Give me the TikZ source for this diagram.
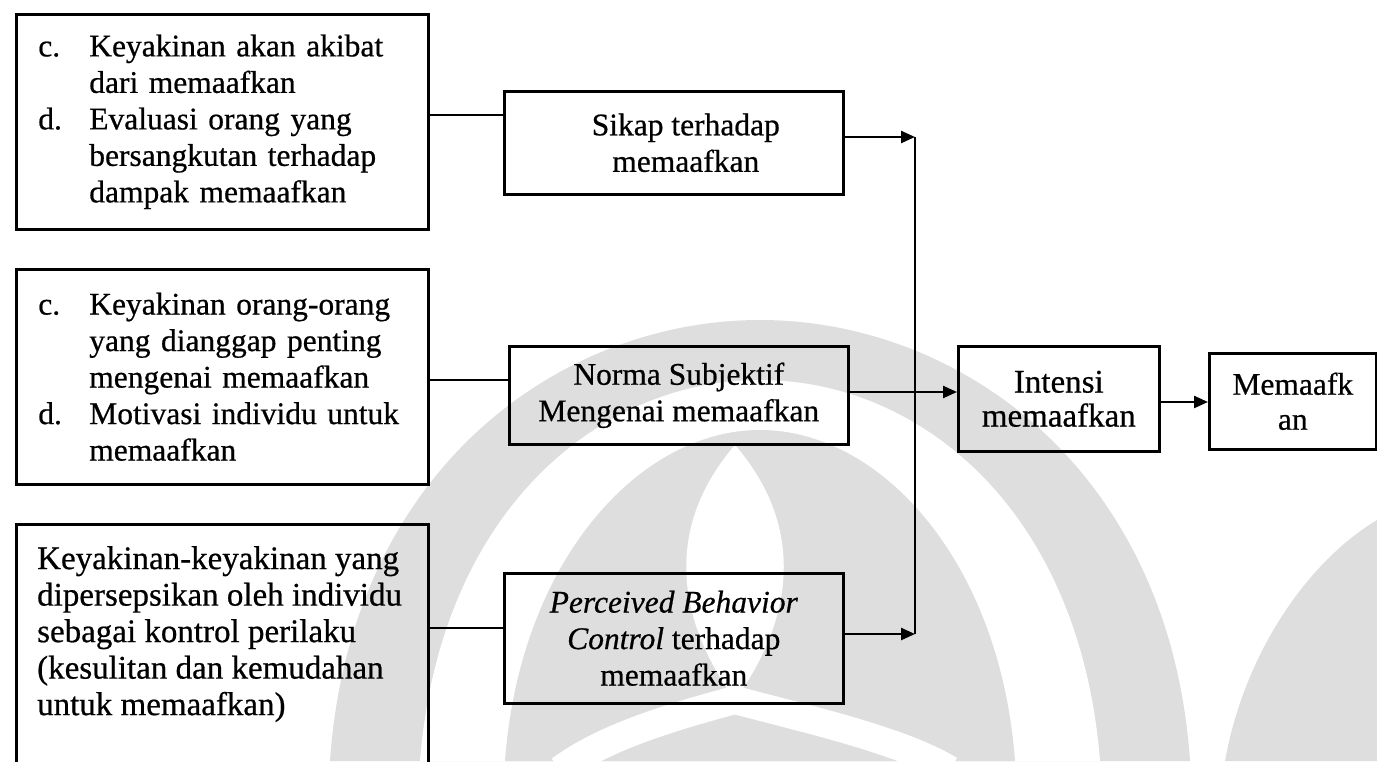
\documentclass[tikz,border=0pt]{standalone}
\usepackage{fontspec}
\setmainfont{Liberation Serif}[FakeBold=0.6]
\usetikzlibrary{arrows.meta}
\definecolor{wmgray}{gray}{0.87}
\tikzset{
  frame/.style={draw=black, line width=2.6pt, inner sep=0pt},
  listbox/.style={frame, align=left, inner xsep=22pt, text width=368pt,
    minimum width=412pt, minimum height=215pt, anchor=north west,
    font=\fontsize{31.5}{36.5}\selectfont},
  midbox/.style={frame, align=center, anchor=north west,
    font=\fontsize{31.5}{36.5}\selectfont},
  link/.style={line width=2.4pt},
  flow/.style={line width=2.4pt, -{Triangle[length=14pt,width=12pt]}},
}
\newcommand{\itemlbl}[1]{\makebox[51pt][l]{#1}}
\newcommand{\itemgap}{\hspace*{51pt}}
\begin{document}
\begin{tikzpicture}[x=1pt, y=-1pt]
\path[use as bounding box] (0,0) rectangle (1377,761);

% faint university emblem in the background
\begin{scope}
  \fill[wmgray] (330,761) .. controls (350,470) and (560,320) .. (760,320)
        .. controls (960,320) and (1170,470) .. (1190,761) -- cycle;
  \fill[white] (420,761) .. controls (440,510) and (600,380) .. (760,380)
        .. controls (920,380) and (1080,510) .. (1100,761) -- cycle;
  \fill[wmgray] (505,761) .. controls (520,560) and (640,430) .. (760,430)
        .. controls (880,430) and (1000,560) .. (1015,761) -- cycle;
  \fill[white] (735,445) .. controls (670,520) and (670,610) .. (735,700)
        .. controls (800,610) and (800,520) .. (735,445) -- cycle;
  \draw[white, line width=28pt] (735,700) .. controls (660,720) and (600,740) .. (560,770);
  \draw[white, line width=28pt] (735,700) .. controls (810,720) and (900,740) .. (950,770);
  \fill[wmgray] (1225,761) .. controls (1245,650) and (1310,560) .. (1377,520)
        -- (1377,761) -- cycle;
\end{scope}

% belief boxes on the left
\node[listbox] (b1) at (15,13) {%
  \itemlbl{c.}Keyakinan akan akibat\\
  \itemgap dari memaafkan\\
  \itemlbl{d.}Evaluasi orang yang\\
  \itemgap bersangkutan terhadap\\
  \itemgap dampak memaafkan};

\node[listbox] (b2) at (15,268) {%
  \itemlbl{c.}Keyakinan orang-orang\\
  \itemgap yang dianggap penting\\
  \itemgap mengenai memaafkan\\
  \itemlbl{d.}Motivasi individu untuk\\
  \itemgap memaafkan};

\node[frame, anchor=north west, minimum width=412pt, minimum height=270pt] (b3) at (15,523) {};
\node[align=left, inner sep=0pt, anchor=north west,
  font=\fontsize{33}{36.5}\selectfont] (b3t) at (37,546) {%
  Keyakinan-keyakinan yang\\
  dipersepsikan oleh individu\\
  sebagai kontrol perilaku\\
  (kesulitan dan kemudahan\\
  untuk memaafkan)};

% determinants
\node[midbox, minimum width=339pt, minimum height=103pt] (sikap) at (503,90)
  {\hspace*{24pt}Sikap terhadap\\\hspace*{24pt}memaafkan};
\node[midbox, minimum width=339pt, minimum height=98pt] (norma) at (508,345)
  {Norma Subjektif\\Mengenai memaafkan};
\node[midbox, minimum width=339pt, minimum height=130pt] (pbc) at (503,572)
  {\textit{Perceived Behavior}\\\textit{Control} terhadap\\memaafkan};

% intention and behaviour
\node[midbox, minimum width=201pt, minimum height=105pt,
  font=\fontsize{33}{34}\selectfont] (intensi) at (957,345)
  {Intensi\\memaafkan};
\node[midbox, minimum width=167pt, minimum height=96pt,
  font=\fontsize{31.5}{35}\selectfont] (maaf) at (1208,352)
  {Memaafk\\an};

% connector levels
\coordinate (y1) at (0,115);
\coordinate (y2) at (0,380);
\coordinate (y3) at (0,628);
\coordinate (jt) at (915,137);
\coordinate (jb) at (915,634);
\coordinate (y4) at (0,392);
\coordinate (y5) at (0,402);

\draw[link] (b1.east |- y1) -- (sikap.west |- y1);
\draw[link] (b2.east |- y2) -- (norma.west |- y2);
\draw[link] (b3.east |- y3) -- (pbc.west |- y3);

\draw[flow] (sikap.east |- jt) -- (jt);
\draw[flow] (pbc.east |- jb) -- (jb);
\draw[link] (jt) -- (jb);
\draw[flow] (norma.east |- y4) -- (intensi.west |- y4);
\draw[flow] (intensi.east |- y5) -- (maaf.west |- y5);
\end{tikzpicture}
\end{document}
